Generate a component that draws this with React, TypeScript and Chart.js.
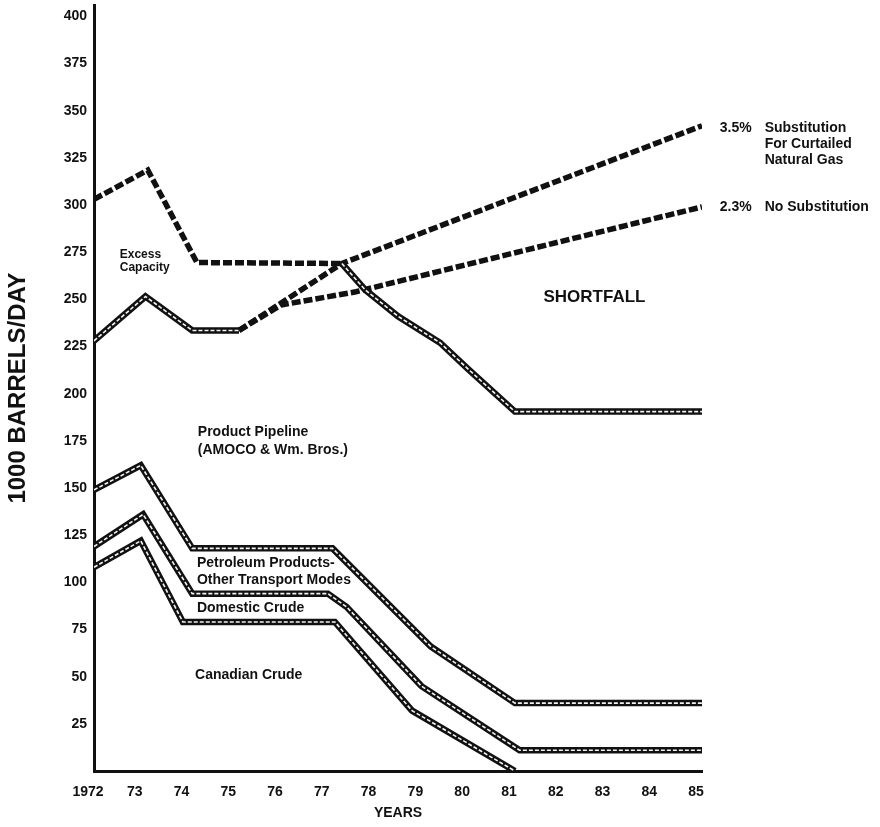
import React, { useEffect, useRef } from 'react';
import { Chart, registerables } from 'chart.js';

Chart.register(...registerables);

const FONT = '"Liberation Sans", Arial, Helvetica, sans-serif';

// X axis ticks (years) and their printed labels
const xTickYears = [1972, 1973, 1974, 1975, 1976, 1977, 1978, 1979, 1980, 1981, 1982, 1983, 1984, 1985];
const xTickLabels = ['1972', '73', '74', '75', '76', '77', '78', '79', '80', '81', '82', '83', '84', '85'];
// Y axis ticks (1000 barrels/day)
const yTickValues = [25, 50, 75, 100, 125, 150, 175, 200, 225, 250, 275, 300, 325, 350, 375, 400];

// Total capacity (dashed, top)
const capacityYears = [1972, 1973.15, 1974.2, 1977.3];
const capacityValues = [303, 318.5, 269.5, 269];

// Capacity decline after 1977 (solid)
const declineYears = [1977.3, 1977.8, 1978.5, 1979.4, 1980.0, 1981.0, 1985];
const declineValues = [269, 255, 241, 227, 213, 190.5, 190.5];

// Demand (solid, to 1975)
const demandYears = [1972, 1973.1, 1974.1, 1975.1];
const demandValues = [228, 251.5, 233.5, 233.5];

// Projection 3.5% – substitution for curtailed natural gas (dashed)
const sub35Years = [1975.1, 1977.3, 1985];
const sub35Values = [233.5, 269, 342];

// Projection 2.3% – no substitution (dashed)
const sub23Years = [1975.1, 1976.0, 1977.6, 1985];
const sub23Values = [233.5, 247, 254, 299];

// Petroleum products – other transport modes (top of band)
const pipelineYears = [1972, 1973.0, 1974.1, 1977.1, 1979.2, 1981.0, 1985];
const pipelineValues = [149, 162, 118, 118, 66, 36, 36];

// Domestic crude (top of band)
const domesticYears = [1972, 1973.05, 1974.1, 1977.0, 1977.4, 1979.0, 1981.1, 1985];
const domesticValues = [119, 136, 94, 94, 87, 45, 11, 11];

// Canadian crude (top of band)
const canadianYears = [1972, 1973.0, 1973.9, 1977.15, 1978.8, 1981.0];
const canadianValues = [108, 122, 79, 79, 32, 0];

// Text labels placed in data coordinates
const labels = [
  { text: 'Excess', x: 1972.55, y: 273.5, size: 12, align: 'left' },
  { text: 'Capacity', x: 1972.55, y: 266.6, size: 12, align: 'left' },
  { text: 'SHORTFALL', x: 1982.7, y: 251.2, size: 17, align: 'center' },
  { text: 'Product Pipeline', x: 1974.22, y: 179.6, size: 14, align: 'left' },
  { text: '(AMOCO & Wm. Bros.)', x: 1974.22, y: 170.1, size: 14, align: 'left' },
  { text: 'Petroleum Products-', x: 1974.2, y: 110.2, size: 14, align: 'left' },
  { text: 'Other Transport Modes', x: 1974.2, y: 101.2, size: 14, align: 'left' },
  { text: 'Domestic Crude', x: 1974.2, y: 86.4, size: 14, align: 'left' },
  { text: 'Canadian Crude', x: 1974.16, y: 50.9, size: 14, align: 'left' },
  { text: '3.5%', x: 1985.38, y: 340.8, size: 14, align: 'left' },
  { text: 'Substitution', x: 1986.34, y: 340.8, size: 14, align: 'left' },
  { text: 'For Curtailed', x: 1986.34, y: 332.3, size: 14, align: 'left' },
  { text: 'Natural Gas', x: 1986.34, y: 323.8, size: 14, align: 'left' },
  { text: '2.3%', x: 1985.38, y: 298.9, size: 14, align: 'left' },
  { text: 'No Substitution', x: 1986.34, y: 298.9, size: 14, align: 'left' },
];

function pts(xs: number[], ys: number[]) {
  return xs.map((x, i) => ({ x, y: ys[i] }));
}

const labelPlugin = {
  id: 'textLabels',
  afterDatasetsDraw(chart: any) {
    const { ctx, scales } = chart;
    const xs = scales.x;
    const ys = scales.y;
    ctx.save();
    ctx.fillStyle = '#111';
    ctx.textBaseline = 'middle';
    for (const l of labels) {
      ctx.font = `bold ${l.size}px ${FONT}`;
      ctx.textAlign = l.align as CanvasTextAlign;
      ctx.fillText(l.text, xs.getPixelForValue(l.x), ys.getPixelForValue(l.y));
    }
    ctx.restore();
  },
};

export default function App() {
  const ref = useRef<HTMLCanvasElement>(null);

  useEffect(() => {
    document.body.style.margin = '0';
    if (!ref.current) return;

    const solid = (xs: number[], ys: number[]) => [
      {
        data: pts(xs, ys),
        borderColor: '#f4f4f4',
        borderWidth: 1.6,
        borderDash: [4, 2],
        order: 1,
      },
      {
        data: pts(xs, ys),
        borderColor: '#111111',
        borderWidth: 6.5,
        order: 2,
      },
    ];
    const dashed = (xs: number[], ys: number[]) => ({
      data: pts(xs, ys),
      borderColor: '#111111',
      borderWidth: 5.5,
      borderDash: [9, 3],
      order: 3,
    });

    const chart = new Chart(ref.current, {
      type: 'line',
      data: {
        datasets: [
          dashed(capacityYears, capacityValues),
          dashed(sub35Years, sub35Values),
          dashed(sub23Years, sub23Values),
          ...solid(declineYears, declineValues),
          ...solid(demandYears, demandValues),
          ...solid(pipelineYears, pipelineValues),
          ...solid(domesticYears, domesticValues),
          ...solid(canadianYears, canadianValues),
        ] as any,
      },
      options: {
        animation: false,
        responsive: false,
        devicePixelRatio: 1,
        layout: { padding: { left: 0, top: 5, right: 178, bottom: 0 }, autoPadding: false } as any,
        plugins: { legend: { display: false }, tooltip: { enabled: false } },
        elements: {
          point: { radius: 0 },
          line: { tension: 0, fill: false, borderJoinStyle: 'miter', borderCapStyle: 'butt' },
        },
        scales: {
          x: {
            type: 'linear',
            min: 1972,
            max: 1985,
            afterBuildTicks: (s: any) => {
              s.ticks = xTickYears.map((v) => ({ value: v }));
            },
            afterFit: (s: any) => {
              s.height = 56;
              s.paddingLeft = 0;
              s.paddingRight = 0;
            },
            ticks: {
              callback: (v: any) => {
                const i = xTickYears.indexOf(Number(v));
                return i >= 0 ? xTickLabels[i] : '';
              },
              font: { family: FONT, size: 14, weight: 'bold' },
              color: '#111',
              padding: 13,
              labelOffset: -6,
              maxRotation: 0,
              autoSkip: false,
            },
            grid: { display: false, drawTicks: false },
            border: { display: true, color: '#111', width: 3 },
            title: {
              display: true,
              text: 'YEARS',
              font: { family: FONT, size: 14, weight: 'bold' },
              color: '#111',
              padding: { top: 0, bottom: 5 },
            },
          } as any,
          y: {
            type: 'linear',
            min: 0,
            max: 406,
            afterBuildTicks: (s: any) => {
              s.ticks = yTickValues.map((v) => ({ value: v }));
            },
            afterFit: (s: any) => {
              s.width = 94;
              s.paddingTop = 0;
              s.paddingBottom = 0;
            },
            ticks: {
              font: { family: FONT, size: 14, weight: 'bold' },
              color: '#111',
              padding: 7,
            },
            grid: { display: false, drawTicks: false },
            border: { display: true, color: '#111', width: 3 },
            title: {
              display: true,
              text: '1000 BARRELS/DAY',
              font: { family: FONT, size: 24, weight: 'bold' },
              color: '#111',
              padding: { top: 4, bottom: 0 },
            },
          } as any,
        },
      },
      plugins: [labelPlugin],
    });

    return () => chart.destroy();
  }, []);

  return <canvas ref={ref} width={880} height={827} style={{ display: 'block' }} />;
}
